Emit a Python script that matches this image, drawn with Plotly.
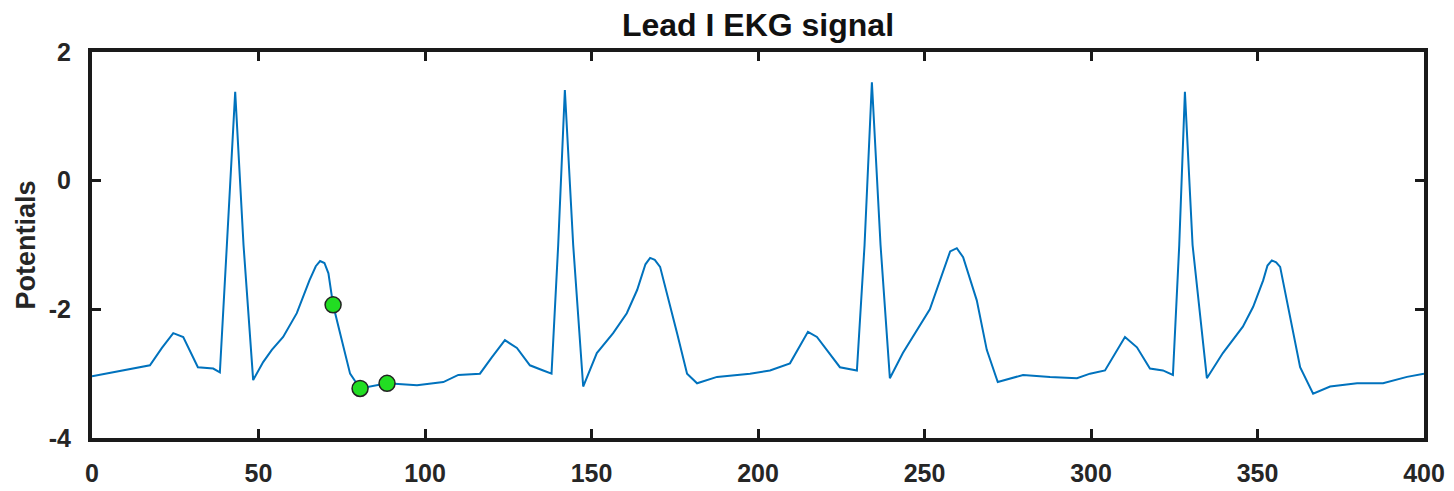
import plotly.graph_objects as go

# EKG signal samples
t = [0, 17.4, 21, 24.4, 27.4, 31.8, 36.4, 38.4, 40.5, 43, 45.5, 48.4, 51.4, 54, 57.4, 61.5, 65.3, 67.2, 68.5,
     69.8, 71, 72.4, 74.5, 77.5, 80.5, 84, 88.6, 97.6, 105.5, 110, 116.5, 120, 124, 127.6, 131.5, 135.5, 138,
     140, 142, 144.5, 147.5, 151.6, 156.5, 160.6, 163.7, 166.2, 167.6, 169, 170.6, 175.7, 178.7, 181.7, 187.7, 197.6,
     203.6, 209.6, 215, 217.7, 224.6, 229.7, 232, 234.2, 236.8, 239.6, 243.5, 251.6, 256, 257.7, 259.7, 261.6,
     265.7, 268.7, 272, 279.6, 287.7, 295.8, 299.7, 304.2, 310.2, 313.8, 317.7, 321.6, 324.6, 326.5,
     328.2, 330.5, 334.8, 339.6, 345.6, 348.7, 351.7, 353, 354.3, 355.6, 356.8, 362.8, 366.7, 371.8, 379.9, 387.7,
     394.9, 400]
potential = [-3.04, -2.87, -2.6, -2.37, -2.43, -2.9, -2.92, -2.98, -1.0, 1.38, -1.0, -3.1, -2.82, -2.63, -2.43,
             -2.06, -1.55, -1.33, -1.25, -1.28, -1.44, -1.93, -2.37, -3.0, -3.23, -3.2, -3.15, -3.18, -3.13, -3.02, -3.0,
             -2.75, -2.48, -2.6, -2.87, -2.95, -3.0, -1.0, 1.41, -1.0, -3.2, -2.68, -2.37, -2.06, -1.7, -1.3, -1.2,
             -1.23, -1.34, -2.37, -3.0, -3.15, -3.05, -3.0, -2.95, -2.84, -2.35, -2.43, -2.9, -2.95, -1.0, 1.53,
             -1.0, -3.07, -2.68, -2.0, -1.35, -1.1, -1.05, -1.19, -1.86, -2.63, -3.13, -3.02, -3.05, -3.07, -3.0,
             -2.95, -2.43, -2.59, -2.92, -2.95, -3.02, -1.0, 1.38, -1.0, -3.07, -2.68, -2.27, -1.96, -1.55,
             -1.32, -1.24, -1.27, -1.34, -2.9, -3.31, -3.2, -3.15, -3.15, -3.05, -3.0]

# highlighted points
mark_t = [72.4, 80.5, 88.6]
mark_v = [-1.93, -3.23, -3.15]

x_ticks = [0, 50, 100, 150, 200, 250, 300, 350, 400]
y_ticks = [-4, -2, 0, 2]

fig = go.Figure()
fig.add_trace(go.Scatter(x=t, y=potential, mode="lines",
                         line=dict(color="#0072BD", width=2), showlegend=False))
fig.add_trace(go.Scatter(x=mark_t, y=mark_v, mode="markers",
                         marker=dict(color="#22DD22", size=16, line=dict(color="#222222", width=1.5)),
                         showlegend=False))

font = dict(family="Arial, Liberation Sans, sans-serif", size=25, color="#262626")
fig.update_layout(
    width=1454, height=491,
    margin=dict(l=92, r=30, t=52, b=53, autoexpand=False),
    paper_bgcolor="white", plot_bgcolor="white",
    title=dict(text="<b>Lead I EKG signal</b>", x=0.5, xanchor="center", y=0.95, yanchor="middle",
               xref="paper", font=dict(family="Arial, Liberation Sans, sans-serif", size=32, color="#111111")),
    font=font,
)
fig.update_xaxes(range=[0, 400], tickvals=x_ticks, ticktext=[f"<b>{v}</b>" for v in x_ticks],
                 showgrid=False, zeroline=False, showline=True, linewidth=4, linecolor="#1a1a1a",
                 mirror="ticks", ticks="inside", ticklen=9, tickwidth=3, tickcolor="#1a1a1a",
                 ticklabelstandoff=10, automargin=False)
fig.update_yaxes(range=[-4, 2], tickvals=y_ticks, ticktext=[f"<b>{v}</b>" for v in y_ticks],
                 showgrid=False, zeroline=False, showline=True, linewidth=4, linecolor="#1a1a1a",
                 mirror="ticks", ticks="inside", ticklen=9, tickwidth=3, tickcolor="#1a1a1a",
                 ticklabelstandoff=12, automargin=False,
                 title=dict(text="<b>Potentials</b>", standoff=6, font=dict(size=27)))

fig.write_html("out.html")
